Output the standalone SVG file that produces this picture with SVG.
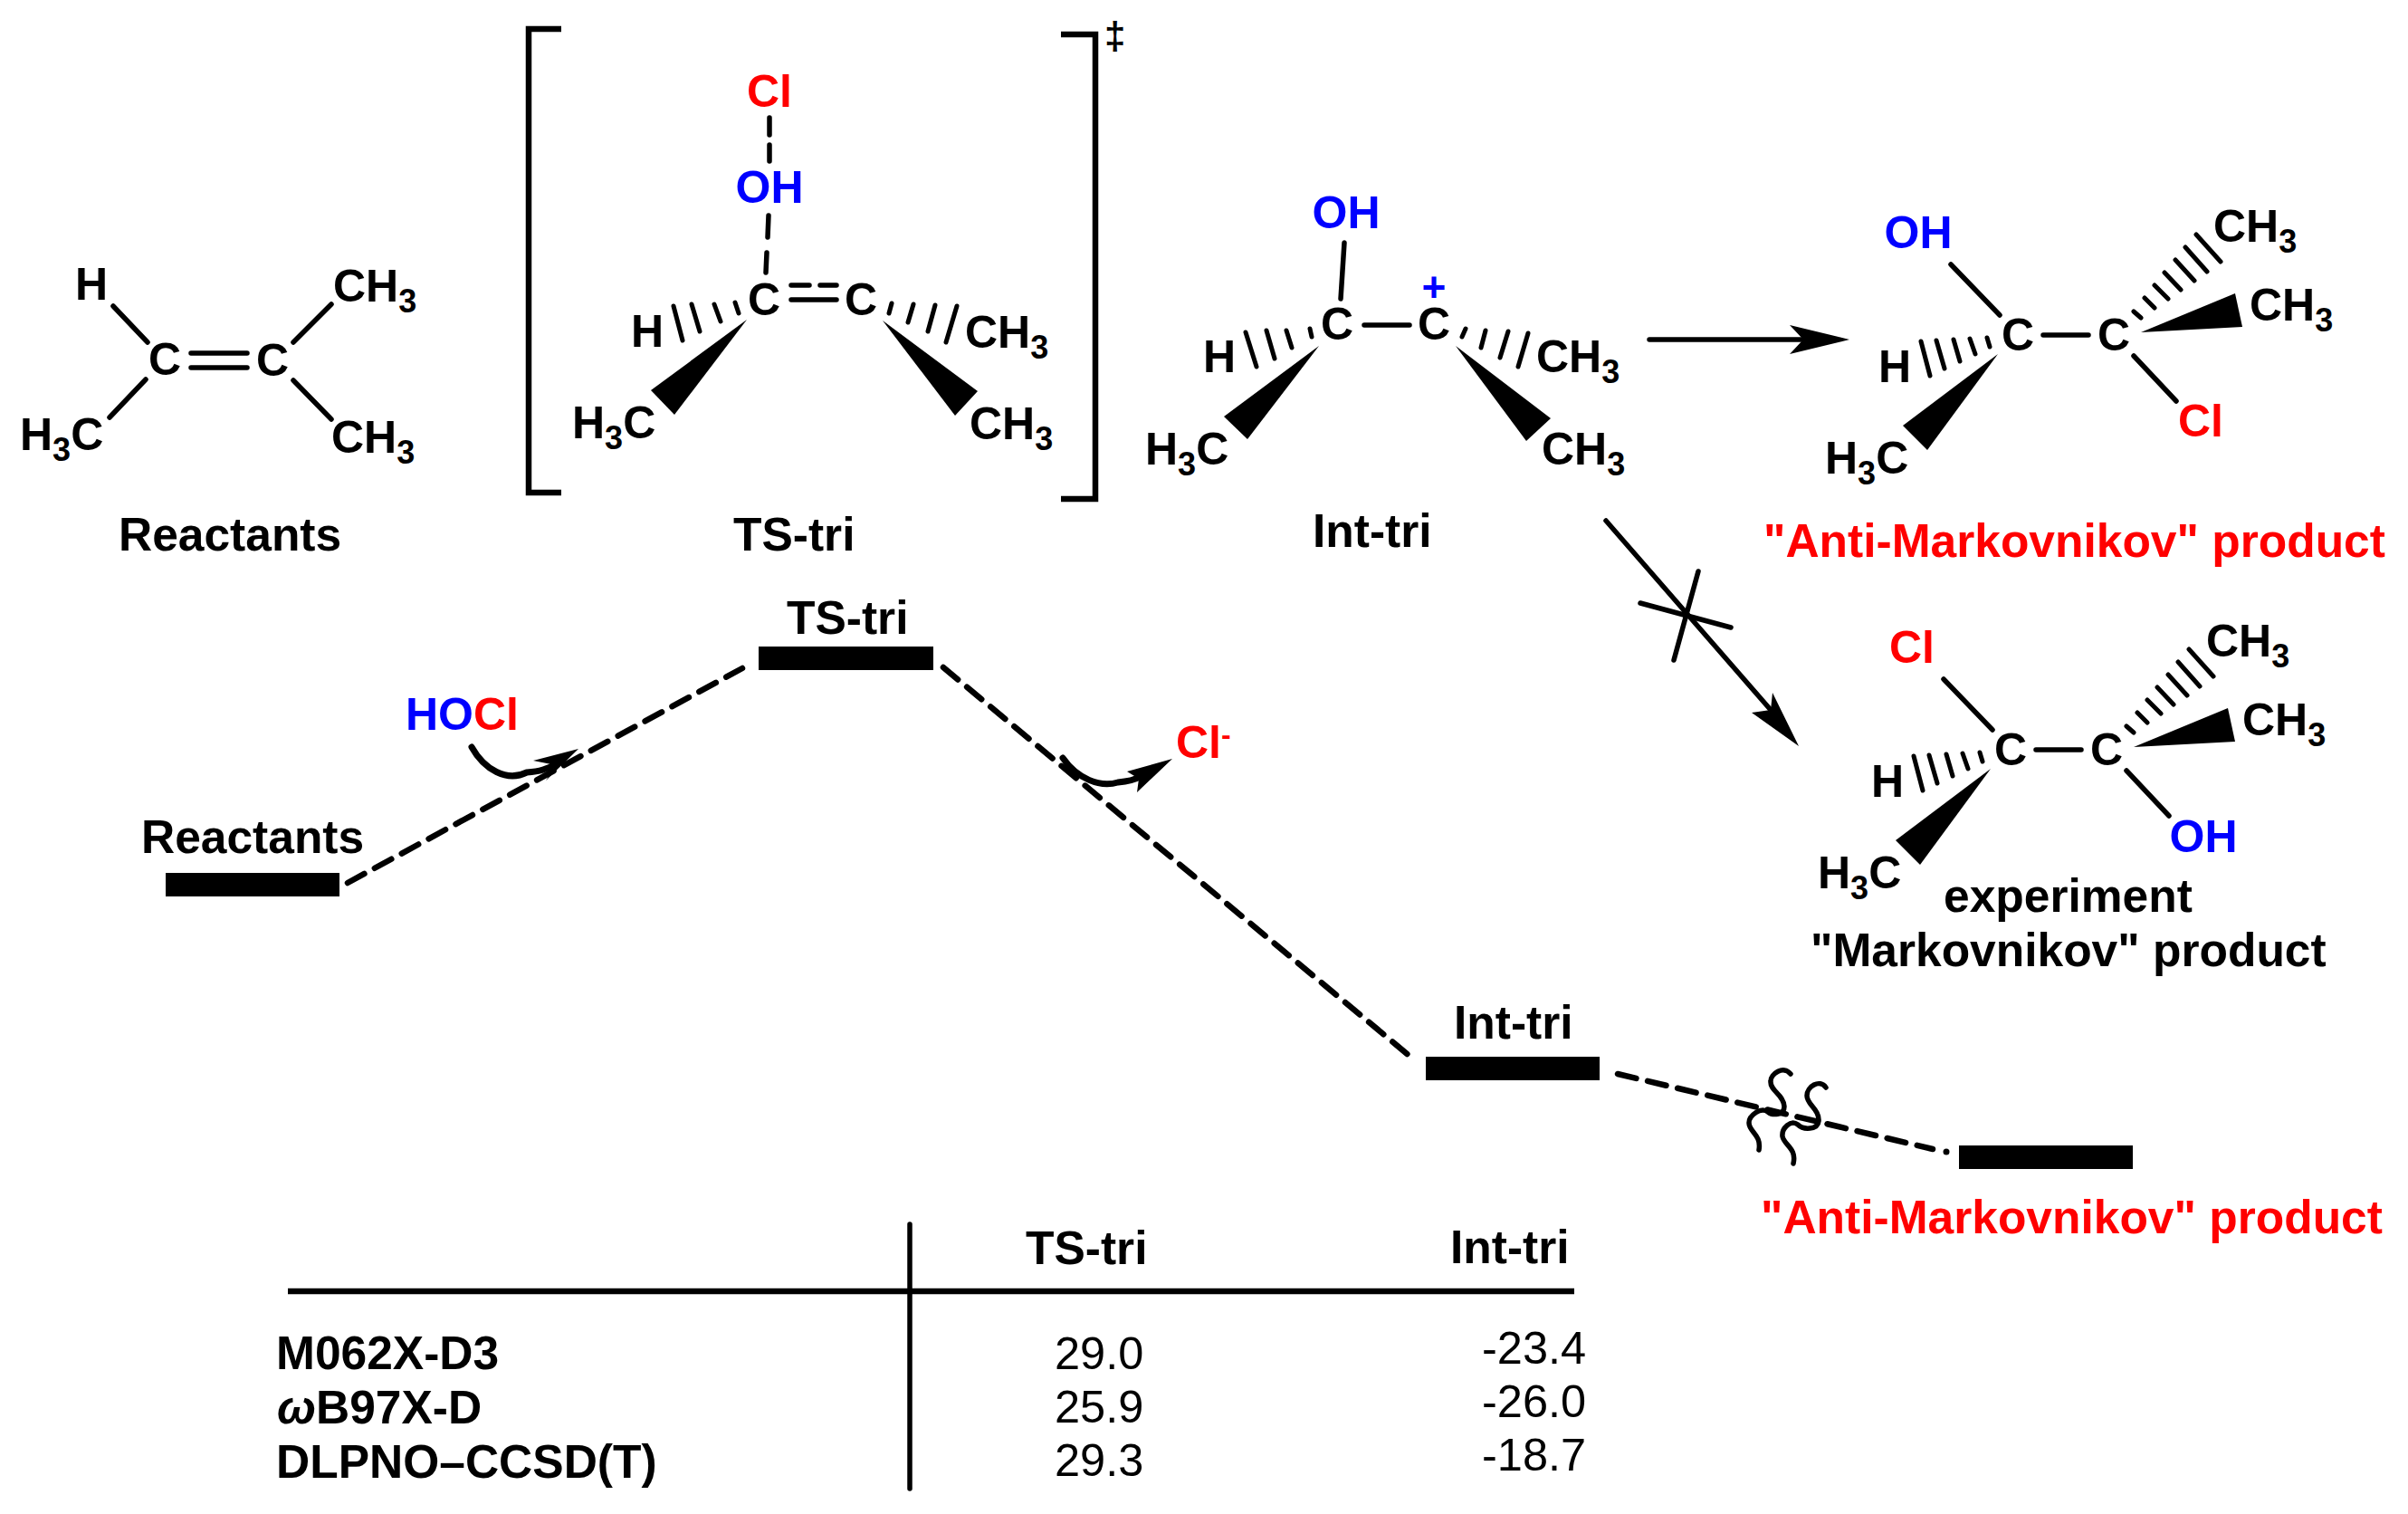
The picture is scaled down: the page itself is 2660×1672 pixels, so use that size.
<svg xmlns="http://www.w3.org/2000/svg" width="2660" height="1672" viewBox="0 0 2660 1672">
<defs>
<style>
text{font-family:"Liberation Sans",Arial,sans-serif;font-weight:700;fill:#000}
.a{font-size:50px}
.l{font-size:51.5px}
.n{font-size:50.5px;font-weight:400}
.s{font-size:36px}
.m{text-anchor:middle}
.r{fill:#f00}
.b{fill:#00f}
.k,.h,.d,.w,.br,.c{fill:none;stroke:#000;stroke-linecap:round}
.k{stroke-width:5.5}
.c{stroke-width:7}
.h{stroke-width:5}
.d{stroke-width:6.5;stroke-dasharray:21 13}
.w{stroke-width:5.5;stroke-linejoin:round}
.br{stroke-width:6.5;stroke-linecap:butt;stroke-linejoin:miter}
.f{fill:#000}
</style>
</defs>
<rect width="2660" height="1672" fill="#fff"/>

<g id="reactants-structure">
<path class="k" d="M125,338L163,378M324,378L366,336M161,419L121,461M324,420L366,463"/>
<path class="k" stroke-linecap="butt" d="M211,390H273M211,406H273"/>
<text class="a m" x="182" y="414">C</text>
<text class="a m" x="301" y="415">C</text>
<text class="a" x="83" y="331">H</text>
<text class="a" x="368" y="333">CH<tspan class="s" dy="12">3</tspan></text>
<text class="a" x="22" y="497">H<tspan class="s" dy="12">3</tspan><tspan dy="-12">C</tspan></text>
<text class="a" x="366" y="500">CH<tspan class="s" dy="12">3</tspan></text>
<text class="l" x="131" y="608">Reactants</text>
</g>

<g id="ts-structure">
<path class="br" d="M620,32H584V544H620"/>
<path class="br" d="M1172,38H1210V551H1172"/>
<text x="1220" y="54" font-size="42">‡</text>
<path class="k" d="M850,130V149M850,160V178M849,238L848,262M847,279L846,301"/>
<path class="k" d="M874,315H894M906,315H924M874,331H924"/>
<path class="h" d="M744,338L754,376M764,336L773,366M789,336L796,355M812,334L816,346M985,335L982,346M1009,336L1003,356M1033,337L1025,366M1057,338L1045,378"/>
<path class="f" d="M825,353L719,431L745,458Z"/>
<path class="f" d="M975,354L1080,432L1055,459Z"/>
<text class="a m r" x="850" y="118">Cl</text>
<text class="a m b" x="850" y="224">OH</text>
<text class="a m" x="844" y="348">C</text>
<text class="a m" x="951" y="348">C</text>
<text class="a" x="697" y="383">H</text>
<text class="a" x="1066" y="384">CH<tspan class="s" dy="12">3</tspan></text>
<text class="a" x="632" y="484">H<tspan class="s" dy="12">3</tspan><tspan dy="-12">C</tspan></text>
<text class="a" x="1071" y="485">CH<tspan class="s" dy="12">3</tspan></text>
<text class="l" x="810" y="608">TS-tri</text>
</g>

<g id="int-structure">
<path class="k" d="M1485,268L1481,330M1507,359H1557"/>
<path class="h" d="M1376,367L1388,405M1399,365L1408,396M1421,365L1427,384M1447,363L1449,372M1619,363L1615,372M1641,365L1636,384M1666,366L1657,395M1688,368L1677,405"/>
<path class="f" d="M1457,382L1352,460L1378,485Z"/>
<path class="f" d="M1608,382L1713,462L1686,487Z"/>
<text class="a m b" x="1487" y="252">OH</text>
<text class="m b" x="1584" y="333" font-size="46">+</text>
<text class="a m" x="1477" y="375">C</text>
<text class="a m" x="1584" y="375">C</text>
<text class="a" x="1329" y="411">H</text>
<text class="a" x="1697" y="411">CH<tspan class="s" dy="12">3</tspan></text>
<text class="a" x="1265" y="513">H<tspan class="s" dy="12">3</tspan><tspan dy="-12">C</tspan></text>
<text class="a" x="1703" y="513">CH<tspan class="s" dy="12">3</tspan></text>
<text class="l" x="1450" y="604">Int-tri</text>
</g>

<g id="anti-product">
<path class="k" d="M2155,292L2209,348M2257,370H2307M2357,393L2404,443"/>
<path class="h" d="M2122,377L2132,415M2139,376L2148,407M2158,375L2165,399M2176,374L2182,391M2195,373L2198,383M2357,344L2365,351M2369,329L2380,340M2380,315L2395,330M2391,301L2409,320M2403,287L2424,310M2414,273L2438,300M2426,259L2453,289"/>
<path class="f" d="M2207,391L2102,470L2129,497Z"/>
<path class="f" d="M2365,367L2469,324L2477,361Z"/>
<text class="a m b" x="2119" y="274">OH</text>
<text class="a m" x="2229" y="387">C</text>
<text class="a m" x="2335" y="387">C</text>
<text class="a" x="2075" y="422">H</text>
<text class="a" x="2445" y="267">CH<tspan class="s" dy="12">3</tspan></text>
<text class="a" x="2485" y="354">CH<tspan class="s" dy="12">3</tspan></text>
<text class="a" x="2016" y="523">H<tspan class="s" dy="12">3</tspan><tspan dy="-12">C</tspan></text>
<text class="a m r" x="2431" y="482">Cl</text>
<text class="l r" x="1948" y="615">"Anti-Markovnikov" product</text>
</g>

<g id="markovnikov-product">
<path class="k" d="M2147,750L2201,806M2249,828H2299M2349,851L2396,901"/>
<path class="h" d="M2114,835L2124,873M2131,834L2140,865M2150,833L2157,857M2168,832L2174,849M2187,831L2190,841M2349,802L2357,809M2361,787L2372,798M2372,773L2387,788M2383,759L2401,778M2395,745L2416,768M2406,731L2430,758M2418,717L2445,747"/>
<path class="f" d="M2199,849L2094,928L2121,955Z"/>
<path class="f" d="M2357,825L2461,782L2469,819Z"/>
<text class="a m r" x="2112" y="732">Cl</text>
<text class="a m" x="2221" y="845">C</text>
<text class="a m" x="2327" y="845">C</text>
<text class="a" x="2067" y="880">H</text>
<text class="a" x="2437" y="725">CH<tspan class="s" dy="12">3</tspan></text>
<text class="a" x="2477" y="812">CH<tspan class="s" dy="12">3</tspan></text>
<text class="a" x="2008" y="981">H<tspan class="s" dy="12">3</tspan><tspan dy="-12">C</tspan></text>
<text class="a m b" x="2434" y="941">OH</text>
<text class="l" x="2147" y="1007">experiment</text>
<text class="l" x="2000" y="1067">"Markovnikov" product</text>
</g>

<g id="level-reactants">
<rect x="183" y="964" width="192" height="26"/>
<text class="l" x="156" y="942">Reactants</text>
</g>
<g id="level-ts">
<rect x="838" y="714" width="193" height="26"/>
<text class="l" x="869" y="700">TS-tri</text>
</g>
<g id="level-int">
<rect x="1575" y="1167" width="192" height="26"/>
<text class="l" x="1606" y="1147">Int-tri</text>
</g>
<g id="level-anti">
<rect x="2164" y="1265" width="192" height="26"/>
<text class="l r" x="1945" y="1362">"Anti-Markovnikov" product</text>
</g>

<g id="species">
<text class="a" x="448" y="806"><tspan class="b">HO</tspan><tspan class="r">Cl</tspan></text>
<text class="a r" x="1299" y="837">Cl<tspan font-size="32" dy="-15">-</tspan></text>
</g>

<g id="connectors">
<path class="d" d="M384,975L820,738"/>
<path class="d" d="M1042,737L1564,1172"/>
<path class="d" d="M1787,1186L2135,1269"/>
<circle class="f" cx="2150" cy="1272" r="3.5"/>
<path class="k" d="M1822,375H1992"/>
<path class="f" d="M2043,375L1977,359L1992,375L1977,391Z"/>
<path class="k" d="M1774,575L1956,784"/>
<path class="f" d="M1987,824L1958,765L1956,784L1935,787Z"/>
<path class="k" d="M1876,631L1849,729M1812,666L1912,693"/>
<path class="c" d="M521,825C535,850 560,864 582,853C595,852 605,850 616,842"/>
<path class="f" d="M639,827L589,840L614,845L603,862Z"/>
<path class="c" d="M1174,837C1190,860 1215,870 1235,864C1245,863 1252,862 1259,858"/>
<path class="f" d="M1295,838L1245,852L1258,860L1256,875Z"/>
<path class="w" d="M1978,1186C1970,1176 1956,1186 1956,1194C1955,1205 1970,1208 1971,1222C1971,1232 1958,1232 1953,1228C1945,1222 1932,1232 1932,1240C1932,1250 1946,1253 1943,1270"/>
<path class="w" d="M2017,1201C2010,1191 1996,1200 1996,1210C1996,1220 2010,1225 2009,1238C2008,1248 1992,1248 1986,1242C1978,1236 1968,1246 1969,1255C1971,1265 1985,1268 1981,1285"/>
</g>

<g id="table">
<path class="k" stroke-linecap="butt" d="M1005,1352V1644"/>
<path class="br" d="M318,1426H1739"/>
<text class="l" x="1133" y="1396">TS-tri</text>
<text class="l" x="1602" y="1395">Int-tri</text>
<text class="l" x="305" y="1512">M062X-D3</text>
<text class="l" x="306" y="1572"><tspan font-style="italic">ω</tspan>B97X-D</text>
<text class="l" x="305" y="1632">DLPNO–CCSD(T)</text>
<text class="n" x="1165" y="1512">29.0</text>
<text class="n" x="1165" y="1571">25.9</text>
<text class="n" x="1165" y="1630">29.3</text>
<text class="n" x="1637" y="1506">-23.4</text>
<text class="n" x="1637" y="1565">-26.0</text>
<text class="n" x="1637" y="1624">-18.7</text>
</g>
</svg>
